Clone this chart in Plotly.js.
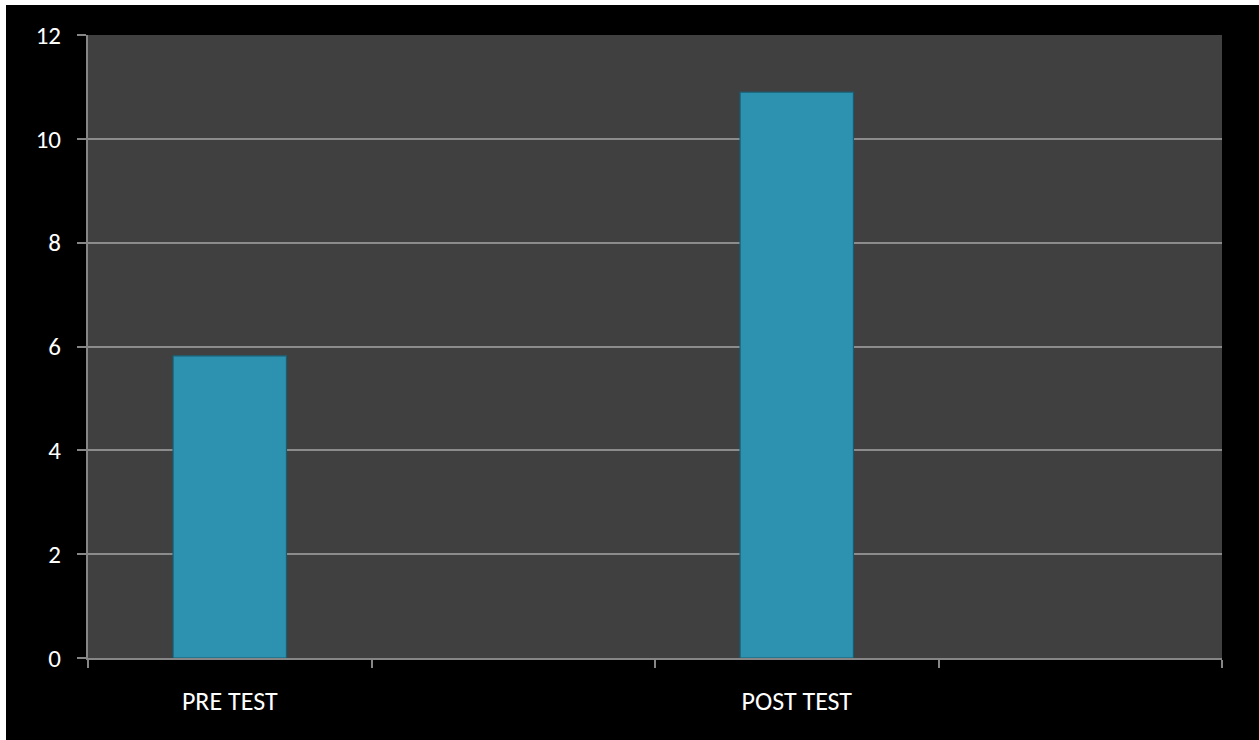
<!DOCTYPE html>
<html>
<head>
<meta charset="utf-8">
<script src="https://cdn.plot.ly/plotly-3.0.1.min.js"></script>
<style>
html,body{margin:0;padding:0;background:#ffffff;width:1259px;height:740px;overflow:hidden;}
#chart{position:absolute;left:6px;top:5px;width:1253px;height:735px;}
</style>
</head>
<body>
<div id="chart"></div>
<script>
var categories = ["PRE TEST", " ", "POST TEST", "  "];
var scores = [5.82, null, 10.9, null];
var yTicks = [0, 2, 4, 6, 8, 10, 12];

var fontFam = "Carlito, 'Liberation Sans Narrow', 'Open Sans', sans-serif";

var trace = {
  type: "bar",
  x: categories,
  y: scores,
  width: 0.4,
  marker: {
    color: "#2c92b0",
    line: {color: "#1b5d70", width: 1.2}
  },
  hoverinfo: "x+y"
};

var layout = {
  width: 1253,
  height: 735,
  paper_bgcolor: "#000000",
  plot_bgcolor: "#404040",
  margin: {l: 82, r: 37, t: 30, b: 82},
  showlegend: false,
  font: {family: fontFam, color: "#ffffff", size: 24},
  xaxis: {
    type: "category",
    categoryorder: "array",
    categoryarray: categories,
    tickson: "boundaries",
    ticks: "outside",
    ticklen: 8,
    tickwidth: 2,
    tickcolor: "#868686",
    showline: true,
    linecolor: "#868686",
    linewidth: 2,
    showgrid: false,
    ticklabelstandoff: 19,
    tickfont: {family: fontFam, size: 26, color: "#ffffff"},
    fixedrange: true
  },
  yaxis: {
    range: [0, 12],
    tickvals: yTicks,
    ticktext: yTicks.map(String),
    ticks: "outside",
    ticklen: 9,
    tickwidth: 2,
    tickcolor: "#868686",
    showline: true,
    linecolor: "#868686",
    linewidth: 2,
    showgrid: true,
    gridcolor: "#8c8c8c",
    gridwidth: 2,
    zeroline: false,
    ticklabelstandoff: 11,
    tickfont: {family: fontFam, size: 25, color: "#ffffff"},
    fixedrange: true
  }
};

Plotly.newPlot("chart", [trace], layout, {displayModeBar: false});
</script>
</body>
</html>
